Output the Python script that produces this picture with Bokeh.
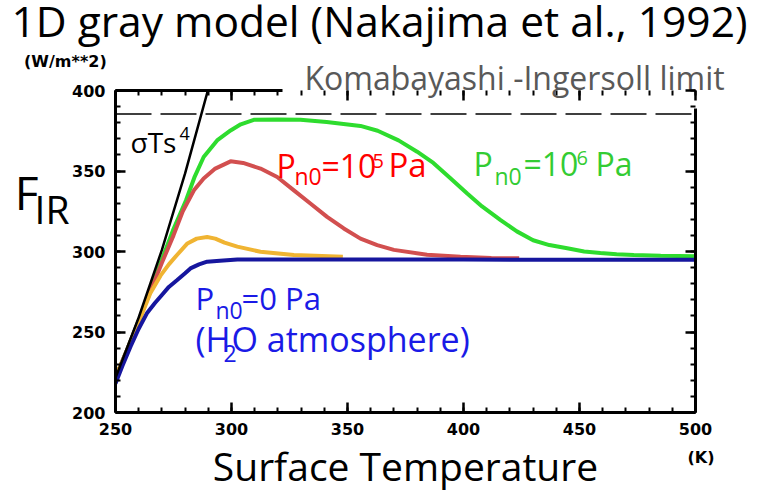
from bokeh.plotting import figure
from bokeh.models import Range1d, LinearAxis, FixedTicker, Span, Label
from bokeh.embed import file_html
from bokeh.resources import INLINE

W, H = 760, 499
FL, FT, FR, FB = 115, 90, 695, 412   # frame edges in canvas pixels

# ---------------- data ----------------
x_ticks = [250, 300, 350, 400, 450, 500]
x_minor = list(range(250, 501, 10))
y_ticks = [200, 250, 300, 350, 400]
y_minor = list(range(200, 401, 10))

ki_limit = 385.4  # Komabayashi-Ingersoll limit (W/m**2)

# sigma*Ts^4
T_black = [250, 260, 270, 280, 290]
F_black = [221.5, 259, 301, 348.5, 401]

# Pn0 = 0 Pa (pure H2O)
T_p0 = [250, 253, 256.5, 260, 263.7, 267, 270, 273, 276.6, 280, 282.3, 286,
        289.5, 295, 302.5, 350, 400, 450, 500]
F_p0 = [218, 229, 241, 252, 262, 268, 273, 278, 282.3, 286.5, 289.5, 292,
        293.7, 294.3, 295, 295, 295, 294.8, 294.8]

# yellow curve (intermediate Pn0)
T_p4 = [250, 255, 260, 265, 269.4, 273, 276.6, 281, 285, 289.5, 293, 297,
        302.5, 312.5, 326.9, 348]
F_p4 = [222, 238, 256, 274, 285, 292, 298, 305, 308, 309, 308, 305.5,
        303, 299.8, 297.8, 296.7]

# Pn0 = 1e5 Pa
T_p5 = [250, 255, 260, 265, 270, 275, 279, 283.8, 288, 293, 299.6, 305,
        312.5, 319.7, 326.9, 334, 341.2, 348.4, 355.6, 362.8, 370, 384.3,
        398.7, 412, 424]
F_p5 = [222, 239, 257, 275, 293, 310, 325, 338, 345.3, 351.5, 356, 355,
        351.5, 346.3, 338, 329.8, 321.5, 314.3, 308, 304, 301, 298,
        296.7, 296, 295.8]

# Pn0 = 1e6 Pa
T_p6 = [250, 255, 260, 265, 270, 275, 280.4, 284, 288, 293.8, 299.6, 304,
        309.6, 320, 329.7, 341, 355.6, 363, 372, 380, 387, 394, 401.6, 408,
        416, 423, 430, 437, 444.7, 452, 459, 466, 473.4, 485, 500]
F_p6 = [222, 239, 257, 276, 295, 314, 331.8, 346, 358.7, 369, 375.2, 379,
        381.8, 382, 381.8, 380.4, 378, 375, 369, 362, 355, 346, 336, 328,
        319.5, 312.5, 307, 304, 302, 300, 299, 298.3, 297.8, 297.3, 297]

# where the outer captions sit, in axis units
t_komaba = 422.0          # centre of the limit caption
f_F, f_IR = 337.0, 327.0  # vertical centres of "F" and "IR"
NB = "\u00a0"             # no-break space used to shift captions sideways

# ---------------- figure ----------------
p = figure(width=W, height=H, x_range=Range1d(250, 500), y_range=Range1d(200, 400),
           output_backend="svg", toolbar_location=None,
           x_axis_location=None, y_axis_location=None,
           title="1D gray model (Nakajima et al., 1992)",
           min_border_left=FL, min_border_right=W - FR,
           min_border_top=FT, min_border_bottom=H - FB)
p.grid.visible = False
p.outline_line_color = None
p.background_fill_color = "white"
p.border_fill_color = "white"
p.title.text_font = "Open Sans"
p.title.text_font_size = "42.5px"
p.title.text_font_style = "normal"
p.title.text_color = "black"
p.title.align = "left"
p.title.offset = -104
p.title.vertical_align = "top"
p.title.standoff = -26


def mk_axis(ticks, minor, bounds=None, labels=True):
    ax = LinearAxis(ticker=FixedTicker(ticks=ticks, minor_ticks=minor))
    ax.axis_line_width = 3
    ax.axis_line_color = "black"
    ax.major_tick_in = 10
    ax.major_tick_out = 0
    ax.minor_tick_in = 5
    ax.minor_tick_out = 0
    ax.major_tick_line_width = 2.5
    ax.minor_tick_line_width = 2
    ax.major_tick_line_color = "black"
    ax.minor_tick_line_color = "black"
    if bounds is not None:
        ax.bounds = bounds
    if labels:
        ax.major_label_text_font = "DejaVu Sans"
        ax.major_label_text_font_style = "bold"
        ax.major_label_text_font_size = "16px"
        ax.major_label_text_color = "black"
        ax.major_label_standoff = 10
    else:
        ax.major_label_text_font_size = "0px"
        ax.major_label_text_color = None
        ax.major_label_standoff = 0
    return ax


def text_axis(tick, text, font, size, color="black", bold=False, standoff=0, span=1.5):
    """An axis without line or ticks whose single tick label is a caption."""
    ax = LinearAxis(ticker=FixedTicker(ticks=[tick], minor_ticks=[]),
                    bounds=(tick - span, tick + span))
    ax.axis_line_color = None
    ax.major_tick_line_color = None
    ax.minor_tick_line_color = None
    ax.major_tick_in = 0
    ax.major_tick_out = 0
    ax.minor_tick_in = 0
    ax.minor_tick_out = 0
    ax.major_label_overrides = {tick: text}
    ax.major_label_text_font = font
    ax.major_label_text_font_size = f"{size}px"
    ax.major_label_text_font_style = "bold" if bold else "normal"
    ax.major_label_text_color = color
    ax.major_label_standoff = standoff
    return ax


# frame axes (first added = closest to the frame)
p.add_layout(mk_axis(x_ticks, x_minor), "below")
p.add_layout(mk_axis(y_ticks, y_minor), "left")
p.add_layout(mk_axis(y_ticks, y_minor, bounds=(200, 389), labels=False), "right")
p.add_layout(mk_axis(x_ticks, x_minor, bounds=(250, 322), labels=False), "above")

# limit caption above the frame, then the unit "(W/m**2)" above it
p.add_layout(text_axis(t_komaba, "Komabayashi -Ingersoll limit", "Open Sans", 32,
                       color="#595959", standoff=-8), "above")
ax_w = text_axis(x_ticks[0], "\n(W/m**2)" + NB * 18, "DejaVu Sans", 16,
                 bold=True, standoff=-18)
ax_w.major_label_text_line_height = 0.56
p.add_layout(ax_w, "above")

# bottom captions: "(K)" tick label + "Surface Temperature" axis label
ax_k = text_axis(x_ticks[-1], NB * 2 + "(K)", "DejaVu Sans", 16, bold=True, standoff=10)
ax_k.axis_label = "Surface Temperature"
ax_k.axis_label_text_font = "Open Sans"
ax_k.axis_label_text_font_style = "normal"
ax_k.axis_label_text_font_size = "39px"
ax_k.axis_label_text_color = "black"
ax_k.axis_label_standoff = -31
p.add_layout(ax_k, "below")

# left: F_IR
p.add_layout(text_axis(f_IR, "IR", "Open Sans", 39, standoff=0), "left")
p.add_layout(text_axis(f_F, "F", "Open Sans", 46, standoff=-7), "left")

p.add_layout(Span(location=ki_limit, dimension="width", line_color="black",
                  line_width=1.6, line_dash="36 9"))

p.line(T_p6, F_p6, line_color="#2edc2e", line_width=4)
p.line(T_p5, F_p5, line_color="#d24f4f", line_width=4)
p.line(T_p4, F_p4, line_color="#f0b432", line_width=4)
p.line(T_p0, F_p0, line_color="#16169e", line_width=4)
p.line(T_black, F_black, line_color="black", line_width=2.5)


def lab(text, X, Ybase, size, color="black", font="Open Sans"):
    # X, Ybase: canvas pixel position of the text start / baseline
    yb = Ybase - 0.38 * size   # the label sits ~0.38 em below the requested line
    p.add_layout(Label(x=X - FL, y=FB - yb, x_units="screen", y_units="screen",
                       text=text, text_font_size=f"{size}px", text_color=color,
                       text_font=font, text_baseline="alphabetic", text_align="left"))


# sigma Ts^4
lab("σTs", 130, 151.7, 28)
lab("4", 179, 140, 18)

# Pn0 = 1e5 Pa
RED = "#ff0000"
lab("P", 276, 176.7, 32, RED)
lab("n0", 294, 184.5, 23, RED)
lab("=10", 321, 176.7, 32, RED)
lab("5", 372, 168.3, 20, RED)
lab("Pa", 388, 176.7, 33, RED)

# Pn0 = 1e6 Pa
GRN = "#33cc33"
lab("P", 473, 175, 32, GRN)
lab("n0", 494, 184.5, 23, GRN)
lab("=10", 523, 175, 32, GRN)
lab("6", 576, 165, 20, GRN)
lab("Pa", 595, 175, 32, GRN)

# Pn0 = 0 Pa
BLU = "#1a1ae6"
lab("P", 195, 309.3, 31, BLU)
lab("n0", 215, 318, 23, BLU)
lab("=0 Pa", 241, 309.3, 31, BLU)
lab("(H", 195, 351.7, 34, BLU)
lab("2", 223, 361.5, 23, BLU)
lab("O atmosphere)", 231, 351.7, 34, BLU)

open("out.html", "w").write(file_html(p, INLINE))
